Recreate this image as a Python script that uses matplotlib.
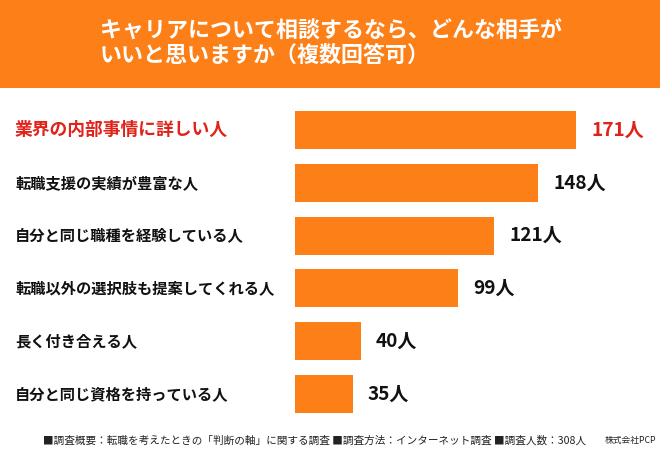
import matplotlib
matplotlib.use("Agg")
import matplotlib.pyplot as plt
from matplotlib.patches import Rectangle
from matplotlib.transforms import blended_transform_factory

plt.rcParams['font.family'] = ['Noto Sans CJK JP', 'DejaVu Sans']

title_lines = ["キャリアについて相談するなら、どんな相手が", "いいと思いますか（複数回答可）"]
categories = [
    "業界の内部事情に詳しい人",
    "転職支援の実績が豊富な人",
    "自分と同じ職種を経験している人",
    "転職以外の選択肢も提案してくれる人",
    "長く付き合える人",
    "自分と同じ資格を持っている人",
]
values = [171, 148, 121, 99, 40, 35]
value_labels = ["171人", "148人", "121人", "99人", "40人", "35人"]
footer_text = "■調査概要：転職を考えたときの「判断の軸」に関する調査 ■調査方法：インターネット調査 ■調査人数：308人"
credit_text = "株式会社PCP"

ORANGE = "#FC7F18"
RED = "#E0231A"
DARK = "#111111"

W, H = 660, 450
fig = plt.figure(figsize=(W / 100, H / 100), dpi=100)
fig.patch.set_facecolor("white")

# header band
fig.add_artist(Rectangle((0, 1 - 88 / H), 1, 88 / H, transform=fig.transFigure,
                         facecolor=ORANGE, edgecolor="none", zorder=0))
fig.text(100 / W, 1 - 31.5 / H, title_lines[0], color="white", fontsize=15.8,
         fontweight="bold", ha="left", va="center")
fig.text(100 / W, 1 - 55 / H, title_lines[1], color="white", fontsize=15.8,
         fontweight="bold", ha="left", va="center")

# main axes
top_px, bot_px = 103.6, 420.4
left_px, right_px = 295, 655
ax = fig.add_axes([left_px / W, 1 - bot_px / H, (right_px - left_px) / W, (bot_px - top_px) / H])
ax.set_xlim(0, (right_px - left_px) / 1.645)
ax.set_ylim(len(categories) - 0.5, -0.5)
ax.axis("off")

ypos = list(range(len(categories)))
ax.barh(ypos, values, height=0.72, color=ORANGE, edgecolor="none")

lab_tr = blended_transform_factory(fig.transFigure, ax.transData)
for i, (cat, v, vl) in enumerate(zip(categories, values, value_labels)):
    col = RED if i == 0 else DARK
    ax.text(15 / W, i, cat, transform=lab_tr, ha="left", va="center",
            fontsize=12.8 if i == 0 else 11.0, fontweight="bold", color=col)
    ax.annotate(vl, xy=(v, i), xytext=(15, 0), textcoords="offset pixels",
                ha="left", va="center", fontsize=13.7, fontweight="bold", color=col)

fig.text(43 / W, 1 - 441 / H, footer_text, fontsize=7.65, color="#222222",
         ha="left", va="center")
fig.text(605 / W, 1 - 441 / H, credit_text, fontsize=6.3, color="#222222",
         ha="left", va="center")

fig.savefig("out.png", dpi=100)
